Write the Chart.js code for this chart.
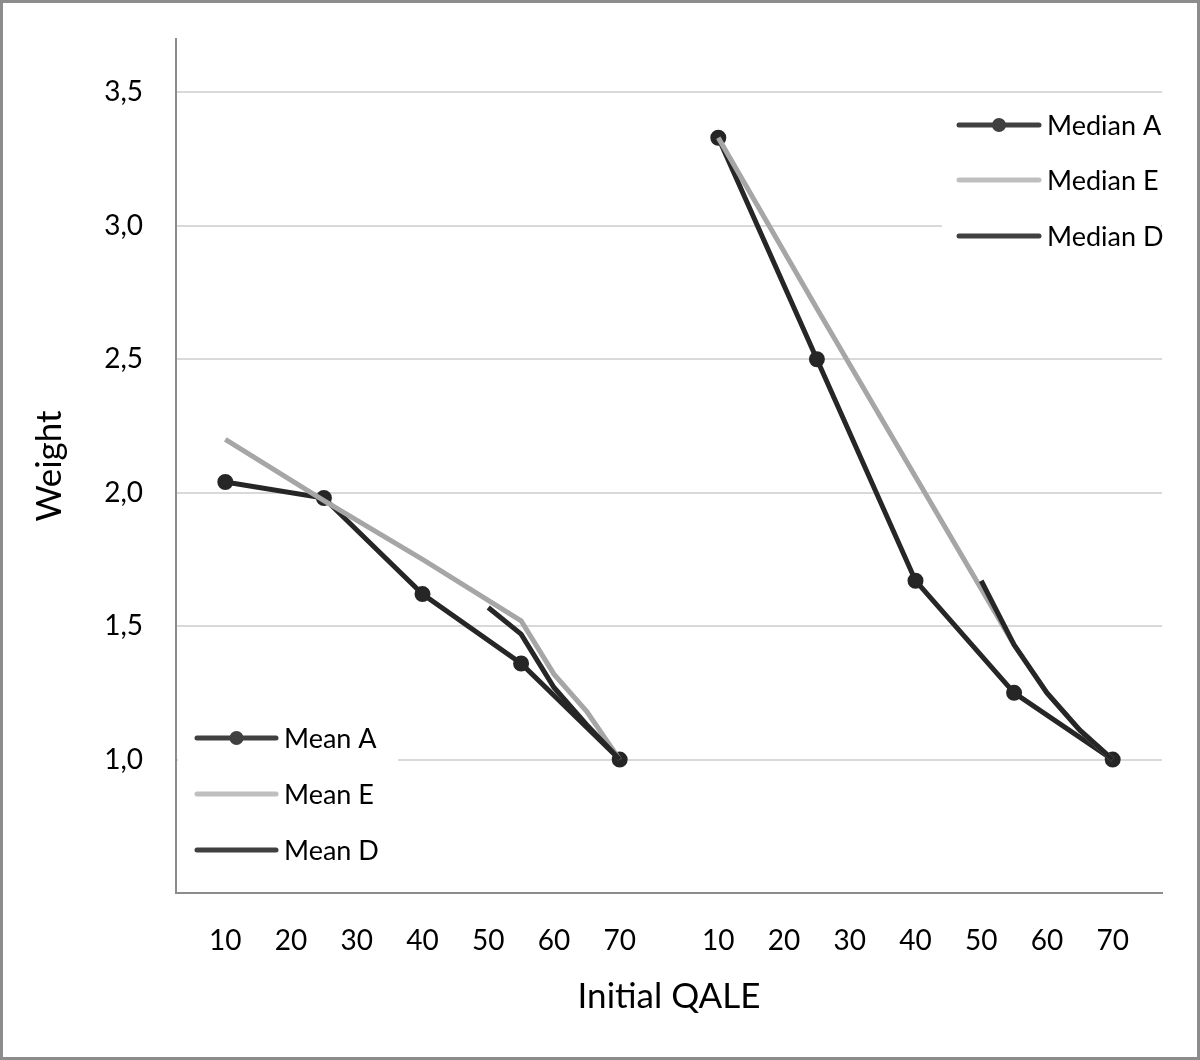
<!DOCTYPE html>
<html>
<head>
<meta charset="utf-8">
<script src="https://cdn.jsdelivr.net/npm/chart.js@4.4.1/dist/chart.umd.min.js"></script>
<style>
  body { margin: 0; background: #fff; }
  canvas { display: block; }
</style>
</head>
<body>
<canvas id="myChart" width="1200" height="1060"></canvas>
<script>
// Valori di QALE iniziale per ogni serie
var qaleA = [10, 25, 40, 55, 70];
var qaleE = [10, 25, 40, 55, 60, 65, 70];
var qaleD = [50, 55, 60, 65, 70];

// Pesi (media)
var meanA = [2.04, 1.98, 1.62, 1.36, 1.0];
var meanE = [2.20, 1.97, 1.75, 1.52, 1.32, 1.18, 1.0];
var meanD = [1.57, 1.47, 1.27, 1.13, 1.0];

// Pesi (mediana)
var medianA = [3.33, 2.50, 1.67, 1.25, 1.0];
var medianE = [3.33, 2.69, 2.06, 1.43, 1.25, 1.11, 1.0];
var medianD = [1.67, 1.43, 1.25, 1.11, 1.0];

// Etichette degli assi
var xTicks = [10, 20, 30, 40, 50, 60, 70];
var yTicks = [1.0, 1.5, 2.0, 2.5, 3.0, 3.5];

// Il secondo gruppo (mediana) e' spostato a destra sull'asse x
var shift = 75;

var dark = "#262626";
var gray = "#a6a6a6";

function punti(xs, ys, off) {
    return xs.map(function (x, i) { return { x: x + off, y: ys[i] }; });
}

function serie(label, xs, ys, off, color, marker, order) {
    return {
        label: label,
        data: punti(xs, ys, off),
        borderColor: color,
        backgroundColor: color,
        borderWidth: 5,
        pointRadius: marker ? 7 : 0,
        pointBorderWidth: 2,
        pointBackgroundColor: color,
        pointBorderColor: color,
        order: order
    };
}

var data = {
    datasets: [
        serie("Mean A", qaleA, meanA, 0, dark, true, 3),
        serie("Mean E", qaleE, meanE, 0, gray, false, 2),
        serie("Mean D", qaleD, meanD, 0, dark, false, 1),
        serie("Median A", qaleA, medianA, shift, dark, true, 3),
        serie("Median E", qaleE, medianE, shift, gray, false, 2),
        serie("Median D", qaleD, medianD, shift, dark, false, 1)
    ]
};

// Disegno delle due legende e della cornice
function legenda(ctx, box, lineX, textX, rows, items) {
    ctx.save();
    ctx.fillStyle = "#fff";
    ctx.fillRect(box[0], box[1], box[2], box[3]);
    ctx.font = "27px Lato";
    ctx.textBaseline = "middle";
    items.forEach(function (it, i) {
        var y = rows[i];
        ctx.strokeStyle = it.color;
        ctx.lineWidth = 5;
        ctx.lineCap = "round";
        ctx.beginPath();
        ctx.moveTo(lineX[0], y);
        ctx.lineTo(lineX[1], y);
        ctx.stroke();
        if (it.marker) {
            ctx.fillStyle = it.color;
            ctx.beginPath();
            ctx.arc((lineX[0] + lineX[1]) / 2, y, 7, 0, Math.PI * 2);
            ctx.fill();
        }
        ctx.fillStyle = "#000";
        ctx.fillText(it.label, textX, y + 1);
    });
    ctx.restore();
}

var legende = {
    id: "legende",
    afterDatasetsDraw: function (chart) {
        var ctx = chart.ctx;
        var lc = "#404040", lg = "#bfbfbf";
        legenda(ctx, [178, 705, 220, 175], [197, 276], 284, [738, 794, 850], [
            { label: "Mean A", color: lc, marker: true },
            { label: "Mean E", color: lg },
            { label: "Mean D", color: lc }
        ]);
        legenda(ctx, [942, 100, 219, 162], [959, 1039], 1047, [125, 180, 236], [
            { label: "Median A", color: lc, marker: true },
            { label: "Median E", color: lg },
            { label: "Median D", color: lc }
        ]);
        ctx.save();
        ctx.strokeStyle = "#8c8c8c";
        ctx.lineWidth = 3;
        ctx.strokeRect(1.5, 1.5, chart.width - 3, chart.height - 3);
        ctx.restore();
    }
};

var ctx = document.getElementById("myChart").getContext("2d");
var grafico = new Chart(ctx, {
    type: "line",
    data: data,
    plugins: [legende],
    options: {
        responsive: false,
        animation: false,
        devicePixelRatio: 1,
        layout: { padding: { top: 39, right: 38, left: 0, bottom: 0 } },
        plugins: {
            legend: { display: false },
            tooltip: { enabled: false }
        },
        scales: {
            x: {
                type: "linear",
                min: 2.5,
                max: 152.5,
                afterBuildTicks: function (scale) {
                    var t = xTicks.map(function (v) { return { value: v }; });
                    xTicks.forEach(function (v) { t.push({ value: v + shift }); });
                    scale.ticks = t;
                },
                afterFit: function (scale) {
                    scale.height = 167;
                    scale.paddingLeft = 0;
                    scale.paddingRight = 0;
                },
                grid: { display: false, drawTicks: false },
                border: { display: true, color: "#8c8c8c", width: 2 },
                ticks: {
                    autoSkip: false,
                    maxRotation: 0,
                    padding: 31,
                    color: "#000",
                    font: { family: "Lato", size: 28 },
                    callback: function (v) { return v > 75 ? v - shift : v; }
                },
                title: {
                    display: true,
                    text: "Initial QALE",
                    color: "#000",
                    font: { family: "Lato", size: 35 },
                    padding: { top: 0, bottom: 42 }
                }
            },
            y: {
                min: 0.5,
                max: 3.7,
                afterBuildTicks: function (scale) {
                    scale.ticks = yTicks.map(function (v) { return { value: v }; });
                },
                afterFit: function (scale) {
                    scale.width = 176;
                    scale.paddingTop = 0;
                    scale.paddingBottom = 0;
                },
                grid: { color: "#d9d9d9", lineWidth: 2, drawTicks: false },
                border: { display: true, color: "#8c8c8c", width: 2 },
                ticks: {
                    padding: 33,
                    color: "#000",
                    font: { family: "Lato", size: 28 },
                    callback: function (v) { return v.toFixed(1).replace(".", ","); }
                },
                title: {
                    display: true,
                    text: "Weight",
                    color: "#000",
                    font: { family: "Lato", size: 35 },
                    padding: { top: 29, bottom: 0 }
                }
            }
        }
    }
});
</script>
</body>
</html>
